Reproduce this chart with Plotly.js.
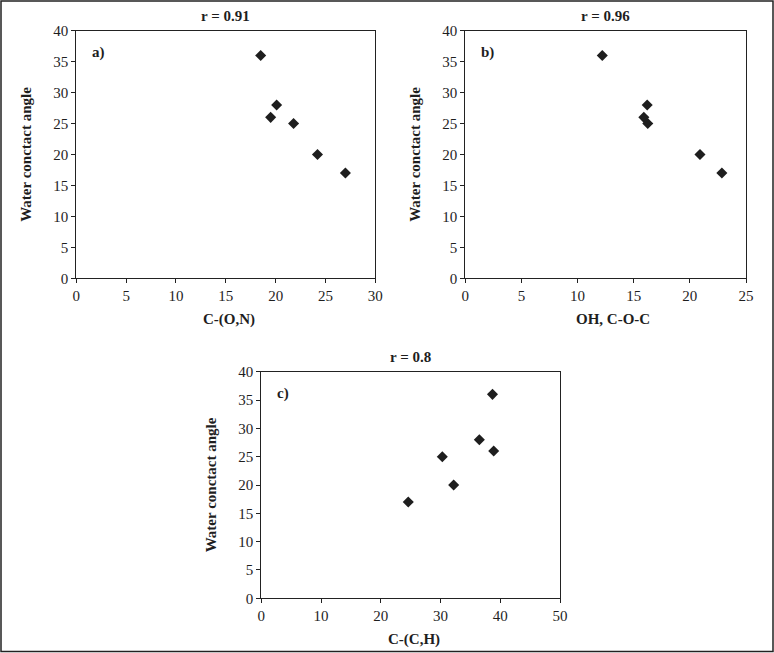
<!DOCTYPE html>
<html>
<head>
<meta charset="utf-8">
<script src="https://cdn.plot.ly/plotly-3.0.1.min.js"></script>
<style>
html,body{margin:0;padding:0;background:#fff;}
#chart{width:774px;height:653px;}
</style>
</head>
<body>
<div id="chart"></div>
<script>
// Data
var contactAngle = [36, 26, 28, 25, 20, 17];
var cON   = [18.5, 19.5, 20.1, 21.8, 24.2, 27.0];
var ohCOC = [12.2, 15.9, 16.2, 16.25, 20.9, 22.85];
var cCH   = [38.7, 38.9, 36.5, 30.3, 32.2, 24.6];
var panelTitles = ["r = 0.91", "r = 0.96", "r = 0.8"];
var panelLabels = ["a)", "b)", "c)"];
var xTitles = ["C-(O,N)", "OH, C-O-C", "C-(C,H)"];
var yTitle = "Water conctact angle";
var xRanges = [[0, 30], [0, 25], [0, 50]];
var xDtick = [5, 5, 10];

var W = 774, H = 653;
function px(x){ return x / W; }
function py(y){ return 1 - y / H; }

// pixel boxes of the three plot areas [left, right, top, bottom]
var boxes = [
  [76.3, 375.3, 30.7, 278.3],
  [465.3, 746.0, 30.7, 278.3],
  [261.3, 560.0, 371.7, 598.3]
];

var FONT = "Liberation Serif, Times New Roman, serif";
var INK = "#1e1e1e";
var xs = [cON, ohCOC, cCH];

var traces = [];
var layout = {
  width: W, height: H,
  margin: {l: 0, r: 0, t: 0, b: 0},
  paper_bgcolor: "#fff",
  plot_bgcolor: "#fff",
  showlegend: false,
  font: {family: FONT, size: 15, color: INK},
  annotations: [],
  shapes: [{
    type: "rect", xref: "paper", yref: "paper",
    x0: px(1), x1: px(W - 1), y0: py(H - 1.5), y1: py(1),
    line: {color: "#222", width: 1.5}
  }]
};

for (var i = 0; i < 3; i++) {
  var sfx = i === 0 ? "" : String(i + 1);
  var b = boxes[i];
  traces.push({
    type: "scatter", mode: "markers",
    x: xs[i], y: contactAngle,
    xaxis: "x" + sfx, yaxis: "y" + sfx,
    marker: {symbol: "diamond", size: 8.5, color: INK},
    hoverinfo: "x+y"
  });
  var axCommon = {
    showgrid: false, zeroline: false,
    showline: true, linecolor: "#222", linewidth: 1, mirror: true,
    ticks: "outside", ticklen: 4, tickwidth: 1, tickcolor: "#222",
    tickfont: {family: FONT, size: 15, color: INK},
    fixedrange: true
  };
  layout["xaxis" + sfx] = Object.assign({}, axCommon, {
    domain: [px(b[0]), px(b[1])],
    range: xRanges[i], dtick: xDtick[i], tick0: 0,
    anchor: "y" + sfx
  });
  layout["yaxis" + sfx] = Object.assign({}, axCommon, {
    domain: [py(b[3]), py(b[2])],
    range: [0, 40], dtick: 5, tick0: 0,
    anchor: "x" + sfx
  });
  var cx = (b[0] + b[1]) / 2, cy = (b[2] + b[3]) / 2;
  // panel title
  layout.annotations.push({
    text: "<b>" + panelTitles[i] + "</b>", xref: "paper", yref: "paper",
    x: px(cx), y: py(b[2] - 15), showarrow: false,
    xanchor: "center", yanchor: "middle",
    font: {family: FONT, size: 15, color: INK}
  });
  // x title
  layout.annotations.push({
    text: "<b>" + xTitles[i] + "</b>", xref: "paper", yref: "paper",
    x: px(cx + (i === 1 ? 7 : 3)), y: py(b[3] + 41), showarrow: false,
    xanchor: "center", yanchor: "middle",
    font: {family: FONT, size: 15, color: INK}
  });
  // y title
  layout.annotations.push({
    text: "<b>" + yTitle + "</b>", xref: "paper", yref: "paper",
    x: px(b[0] - (i === 2 ? 50 : 51)), y: py(cy), showarrow: false, textangle: -90,
    xanchor: "center", yanchor: "middle",
    font: {family: FONT, size: 15, color: INK}
  });
  // panel label
  layout.annotations.push({
    text: "<b>" + panelLabels[i] + "</b>", xref: "paper", yref: "paper",
    x: px(b[0] + 14), y: py(b[2] + 22), showarrow: false,
    xanchor: "left", yanchor: "middle",
    font: {family: FONT, size: 15, color: INK}
  });
}

Plotly.newPlot("chart", traces, layout, {displayModeBar: false, staticPlot: true});
</script>
</body>
</html>
